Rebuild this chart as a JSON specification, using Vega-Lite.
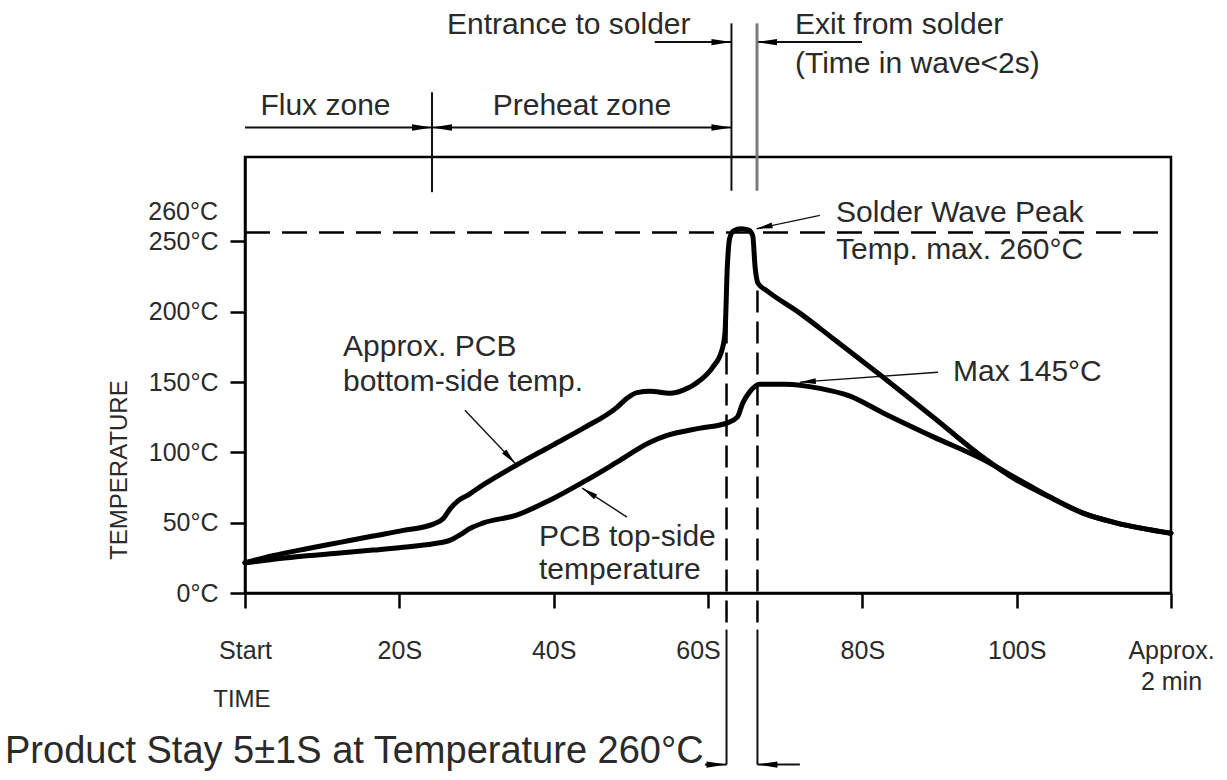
{
  "$schema": "https://vega.github.io/schema/vega-lite/v6.json",
  "width": 926,
  "height": 436,
  "autosize": {"type": "none"},
  "padding": {"left": 245, "top": 157, "right": 56, "bottom": 187},
  "background": "white",
  "config": {
    "view": {"stroke": "#000", "strokeWidth": 2.5},
    "axis": {
      "domainColor": "#000", "domainWidth": 2.5, "tickColor": "#000", "tickWidth": 2.5,
      "labelFont": "Liberation Sans", "labelFontSize": 25, "labelColor": "#2a2a2a",
      "grid": false
    },
    "text": {"font": "Liberation Sans", "color": "#2a2a2a"}
  },
  "datasets": {
    "curves": [
      {"t": 0, "temp": 21.5, "side": "bottom"}, {"t": 3.6, "temp": 26.5, "side": "bottom"}, {"t": 8, "temp": 31.5, "side": "bottom"},
      {"t": 12.3, "temp": 36, "side": "bottom"}, {"t": 16.6, "temp": 40.5, "side": "bottom"}, {"t": 20.5, "temp": 44.5, "side": "bottom"},
      {"t": 24.4, "temp": 49, "side": "bottom"}, {"t": 25.7, "temp": 53, "side": "bottom"}, {"t": 26.6, "temp": 60, "side": "bottom"},
      {"t": 27.6, "temp": 65.5, "side": "bottom"}, {"t": 29, "temp": 70, "side": "bottom"}, {"t": 30.8, "temp": 76.7, "side": "bottom"},
      {"t": 35.2, "temp": 91, "side": "bottom"}, {"t": 39.5, "temp": 104, "side": "bottom"}, {"t": 43.8, "temp": 117, "side": "bottom"},
      {"t": 48.2, "temp": 132, "side": "bottom"}, {"t": 49.5, "temp": 138.5, "side": "bottom"}, {"t": 50.8, "temp": 142.5, "side": "bottom"},
      {"t": 52.5, "temp": 143.5, "side": "bottom"}, {"t": 55.1, "temp": 142, "side": "bottom"}, {"t": 56.8, "temp": 144.2, "side": "bottom"},
      {"t": 59, "temp": 151.3, "side": "bottom"}, {"t": 60.6, "temp": 160.5, "side": "bottom"}, {"t": 61.8, "temp": 172.6, "side": "bottom"},
      {"t": 62.2, "temp": 185, "side": "bottom"}, {"t": 62.5, "temp": 231.5, "side": "bottom"}, {"t": 62.8, "temp": 252, "side": "bottom"},
      {"t": 63.3, "temp": 257.5, "side": "bottom"}, {"t": 64.3, "temp": 259, "side": "bottom"}, {"t": 65.3, "temp": 258, "side": "bottom"},
      {"t": 65.8, "temp": 254, "side": "bottom"},
      {"t": 66.1, "temp": 232, "side": "bottom"}, {"t": 66.5, "temp": 220, "side": "bottom"}, {"t": 67.6, "temp": 215, "side": "bottom"},
      {"t": 71.9, "temp": 199, "side": "bottom"}, {"t": 76.2, "temp": 181, "side": "bottom"}, {"t": 82.7, "temp": 153.4, "side": "bottom"},
      {"t": 89.2, "temp": 125, "side": "bottom"}, {"t": 95.6, "temp": 96.6, "side": "bottom"}, {"t": 100, "temp": 80.3, "side": "bottom"},
      {"t": 104.3, "temp": 68.2, "side": "bottom"}, {"t": 108.6, "temp": 56.8, "side": "bottom"}, {"t": 113, "temp": 49.7, "side": "bottom"},
      {"t": 120, "temp": 42.5, "side": "bottom"},
      {"t": 0, "temp": 21.5, "side": "top"}, {"t": 8, "temp": 26.5, "side": "top"}, {"t": 12.3, "temp": 28.4, "side": "top"},
      {"t": 16.6, "temp": 30.5, "side": "top"}, {"t": 20.5, "temp": 32.5, "side": "top"}, {"t": 24.4, "temp": 35, "side": "top"},
      {"t": 26.6, "temp": 37.6, "side": "top"}, {"t": 27.9, "temp": 41.5, "side": "top"}, {"t": 29.2, "temp": 46, "side": "top"},
      {"t": 30.8, "temp": 49.7, "side": "top"}, {"t": 35.2, "temp": 55.4, "side": "top"}, {"t": 39.5, "temp": 66, "side": "top"},
      {"t": 43.8, "temp": 78.8, "side": "top"}, {"t": 48.2, "temp": 93, "side": "top"}, {"t": 52.5, "temp": 107.2, "side": "top"},
      {"t": 54.7, "temp": 112, "side": "top"}, {"t": 59, "temp": 117.2, "side": "top"}, {"t": 62.5, "temp": 121, "side": "top"},
      {"t": 63.8, "temp": 125, "side": "top"}, {"t": 64.5, "temp": 135, "side": "top"}, {"t": 65.4, "temp": 143, "side": "top"},
      {"t": 66.7, "temp": 148.5, "side": "top"}, {"t": 70, "temp": 148.5, "side": "top"}, {"t": 74.5, "temp": 145.5, "side": "top"},
      {"t": 78.4, "temp": 140, "side": "top"},
      {"t": 82.7, "temp": 128, "side": "top"}, {"t": 89.2, "temp": 111, "side": "top"}, {"t": 95.6, "temp": 95, "side": "top"},
      {"t": 100, "temp": 81.5, "side": "top"}, {"t": 104.3, "temp": 68.2, "side": "top"}, {"t": 108.6, "temp": 56.8, "side": "top"},
      {"t": 113, "temp": 49.7, "side": "top"}, {"t": 120, "temp": 42.5, "side": "top"}
    ],
    "segs": [
      {"t": 0, "temp": 256.4, "t2": 120, "temp2": 256.4, "kind": "hdash"},
      {"t": 62.4, "temp": 215, "t2": 62.4, "temp2": -26, "kind": "vdash"},
      {"t": 66.41, "temp": 215, "t2": 66.41, "temp2": -26, "kind": "vdash"},
      {"t": 62.4, "temp": -26, "t2": 62.4, "temp2": -122, "kind": "solid"},
      {"t": 66.41, "temp": -26, "t2": 66.41, "temp2": -122, "kind": "solid"},
      {"t": 59.6, "temp": -122, "t2": 62.4, "temp2": -122, "kind": "solid"},
      {"t": 66.41, "temp": -122, "t2": 71.9, "temp2": -122, "kind": "solid"},
      {"t": 24.23, "temp": 356, "t2": 24.23, "temp2": 285, "kind": "solid"},
      {"t": 63.04, "temp": 405, "t2": 63.04, "temp2": 286, "kind": "solid"},
      {"t": 66.35, "temp": 405, "t2": 66.35, "temp2": 286, "kind": "grey"},
      {"t": 0, "temp": 331, "t2": 24.23, "temp2": 331, "kind": "solid"},
      {"t": 24.23, "temp": 331, "t2": 63.04, "temp2": 331, "kind": "solid"},
      {"t": 53.1, "temp": 391.7, "t2": 63.04, "temp2": 391.7, "kind": "solid"},
      {"t": 66.35, "temp": 391.7, "t2": 79.95, "temp2": 391.7, "kind": "solid"},
      {"t": 28.5, "temp": 130, "t2": 35.0, "temp2": 92.3, "kind": "leader"},
      {"t": 49.5, "temp": 54, "t2": 43.7, "temp2": 74.6, "kind": "leader"},
      {"t": 89.8, "temp": 157, "t2": 71.9, "temp2": 149.9, "kind": "leader"},
      {"t": 74.5, "temp": 268.5, "t2": 66.3, "temp2": 259, "kind": "leader"}
    ],
    "heads": [
      {"t": 24.23, "temp": 331, "dir": "right"},
      {"t": 63.04, "temp": 331, "dir": "right"},
      {"t": 63.04, "temp": 391.7, "dir": "right"},
      {"t": 62.4, "temp": -122, "dir": "right"},
      {"t": 24.23, "temp": 331, "dir": "left"},
      {"t": 66.35, "temp": 391.7, "dir": "left"},
      {"t": 66.41, "temp": -122, "dir": "left"},
      {"t": 35.0, "temp": 92.3, "dir": "downright"},
      {"t": 43.7, "temp": 74.6, "dir": "upleft"},
      {"t": 71.9, "temp": 149.9, "dir": "max"},
      {"t": 66.3, "temp": 259, "dir": "peak"}
    ],
    "notes": [
      {"t": 26.18, "temp": 404.1, "label": "Entrance to solder", "kind": "note"},
      {"t": 71.27, "temp": 404.1, "label": "Exit from solder", "kind": "note"},
      {"t": 71.27, "temp": 376.4, "label": "(Time in wave<2s)", "kind": "note"},
      {"t": 2.0, "temp": 346.6, "label": "Flux zone", "kind": "note"},
      {"t": 32.1, "temp": 346.6, "label": "Preheat zone", "kind": "note"},
      {"t": 76.6, "temp": 269.9, "label": "Solder Wave Peak", "kind": "note"},
      {"t": 76.6, "temp": 243.6, "label": "Temp. max. 260°C", "kind": "note"},
      {"t": 12.7, "temp": 174.7, "label": "Approx. PCB", "kind": "note"},
      {"t": 12.7, "temp": 149.9, "label": "bottom-side temp.", "kind": "note"},
      {"t": 91.75, "temp": 157.2, "label": "Max 145°C", "kind": "note"},
      {"t": 38.1, "temp": 39.8, "label": "PCB top-side", "kind": "note"},
      {"t": 38.1, "temp": 16.3, "label": "temperature", "kind": "note"},
      {"t": -3.5, "temp": 270.6, "label": "260°C", "kind": "ylab"},
      {"t": -0.4, "temp": -76, "label": "TIME", "kind": "time"},
      {"t": -16.2, "temp": 87.4, "label": "TEMPERATURE", "kind": "ytitle"},
      {"t": -31.1, "temp": -113, "label": "Product Stay 5±1S at Temperature 260°C", "kind": "stay"}
    ]
  },
  "encoding": {
    "x": {
      "field": "t", "type": "quantitative",
      "scale": {"domain": [0, 120], "nice": false, "zero": false},
      "axis": {
        "values": [0, 20, 40, 60, 80, 100, 120],
        "labelExpr": "datum.value == 0 ? 'Start' : (datum.value == 120 ? ['Approx.', '2 min'] : datum.value + 'S')",
        "labelOffset": {"condition": {"test": "datum.value == 60", "value": -10}, "value": 0},
        "title": null, "tickSize": 15, "labelPadding": 30, "labelLineHeight": 31,
        "labelFlush": false, "labelOverlap": false
      }
    },
    "y": {
      "field": "temp", "type": "quantitative",
      "scale": {"domain": [0, 310], "nice": false, "zero": false},
      "axis": {
        "values": [0, 50, 100, 150, 200, 250],
        "labelExpr": "datum.value + '°C'",
        "title": null, "tickSize": 15, "labelPadding": 12,
        "labelFlush": false, "labelOverlap": false
      }
    }
  },
  "layer": [
    {
      "data": {"name": "segs"},
      "transform": [{"filter": "datum.kind == 'hdash'"}],
      "mark": {"type": "rule", "color": "#000", "strokeWidth": 2.5, "strokeDash": [25, 12]},
      "encoding": {"x2": {"field": "t2"}, "y2": {"field": "temp2"}}
    },
    {
      "data": {"name": "segs"},
      "transform": [{"filter": "datum.kind == 'vdash'"}],
      "mark": {"type": "rule", "color": "#000", "strokeWidth": 2.5, "strokeDash": [22, 9]},
      "encoding": {"x2": {"field": "t2"}, "y2": {"field": "temp2"}}
    },
    {
      "data": {"name": "segs"},
      "transform": [{"filter": "datum.kind == 'solid'"}],
      "mark": {"type": "rule", "color": "#111", "strokeWidth": 2},
      "encoding": {"x2": {"field": "t2"}, "y2": {"field": "temp2"}}
    },
    {
      "data": {"name": "segs"},
      "transform": [{"filter": "datum.kind == 'grey'"}],
      "mark": {"type": "rule", "color": "#7a7a7a", "strokeWidth": 3},
      "encoding": {"x2": {"field": "t2"}, "y2": {"field": "temp2"}}
    },
    {
      "data": {"name": "segs"},
      "transform": [{"filter": "datum.kind == 'leader'"}],
      "mark": {"type": "rule", "color": "#111", "strokeWidth": 1.4},
      "encoding": {"x2": {"field": "t2"}, "y2": {"field": "temp2"}}
    },
    {
      "data": {"name": "curves"},
      "mark": {"type": "line", "color": "#000", "strokeWidth": 5, "interpolate": "monotone", "strokeJoin": "round", "strokeCap": "round"},
      "encoding": {"detail": {"field": "side", "type": "nominal"}}
    },
    {
      "data": {"name": "heads"},
      "transform": [{"filter": "datum.dir == 'right'"}],
      "mark": {"type": "point", "shape": "M0,0L-1,-0.16L-1,0.16Z", "size": 1600, "filled": true, "color": "#000", "opacity": 1, "angle": 0},
      "encoding": {}
    },
    {
      "data": {"name": "heads"},
      "transform": [{"filter": "datum.dir == 'left'"}],
      "mark": {"type": "point", "shape": "M0,0L-1,-0.16L-1,0.16Z", "size": 1600, "filled": true, "color": "#000", "opacity": 1, "angle": 180},
      "encoding": {}
    },
    {
      "data": {"name": "heads"},
      "transform": [{"filter": "datum.dir == 'downright'"}],
      "mark": {"type": "point", "shape": "M0,0L-1,-0.18L-1,0.18Z", "size": 1024, "filled": true, "color": "#000", "opacity": 1, "angle": 47},
      "encoding": {}
    },
    {
      "data": {"name": "heads"},
      "transform": [{"filter": "datum.dir == 'upleft'"}],
      "mark": {"type": "point", "shape": "M0,0L-1,-0.18L-1,0.18Z", "size": 1024, "filled": true, "color": "#000", "opacity": 1, "angle": 213},
      "encoding": {}
    },
    {
      "data": {"name": "heads"},
      "transform": [{"filter": "datum.dir == 'max'"}],
      "mark": {"type": "point", "shape": "M0,0L-1,-0.18L-1,0.18Z", "size": 1024, "filled": true, "color": "#000", "opacity": 1, "angle": 176},
      "encoding": {}
    },
    {
      "data": {"name": "heads"},
      "transform": [{"filter": "datum.dir == 'peak'"}],
      "mark": {"type": "point", "shape": "M0,0L-1,-0.18L-1,0.18Z", "size": 1024, "filled": true, "color": "#000", "opacity": 1, "angle": 168},
      "encoding": {}
    },
    {
      "data": {"name": "notes"},
      "transform": [{"filter": "datum.kind == 'note'"}],
      "mark": {"type": "text", "align": "left", "baseline": "middle", "fontSize": 30},
      "encoding": {"text": {"field": "label"}}
    },
    {
      "data": {"name": "notes"},
      "transform": [{"filter": "datum.kind == 'ylab'"}],
      "mark": {"type": "text", "align": "right", "baseline": "middle", "fontSize": 25},
      "encoding": {"text": {"field": "label"}}
    },
    {
      "data": {"name": "notes"},
      "transform": [{"filter": "datum.kind == 'time'"}],
      "mark": {"type": "text", "align": "center", "baseline": "middle", "fontSize": 24},
      "encoding": {"text": {"field": "label"}}
    },
    {
      "data": {"name": "notes"},
      "transform": [{"filter": "datum.kind == 'ytitle'"}],
      "mark": {"type": "text", "align": "center", "baseline": "middle", "fontSize": 24, "angle": 270},
      "encoding": {"text": {"field": "label"}}
    },
    {
      "data": {"name": "notes"},
      "transform": [{"filter": "datum.kind == 'stay'"}],
      "mark": {"type": "text", "align": "left", "baseline": "middle", "fontSize": 38},
      "encoding": {"text": {"field": "label"}}
    }
  ]
}
